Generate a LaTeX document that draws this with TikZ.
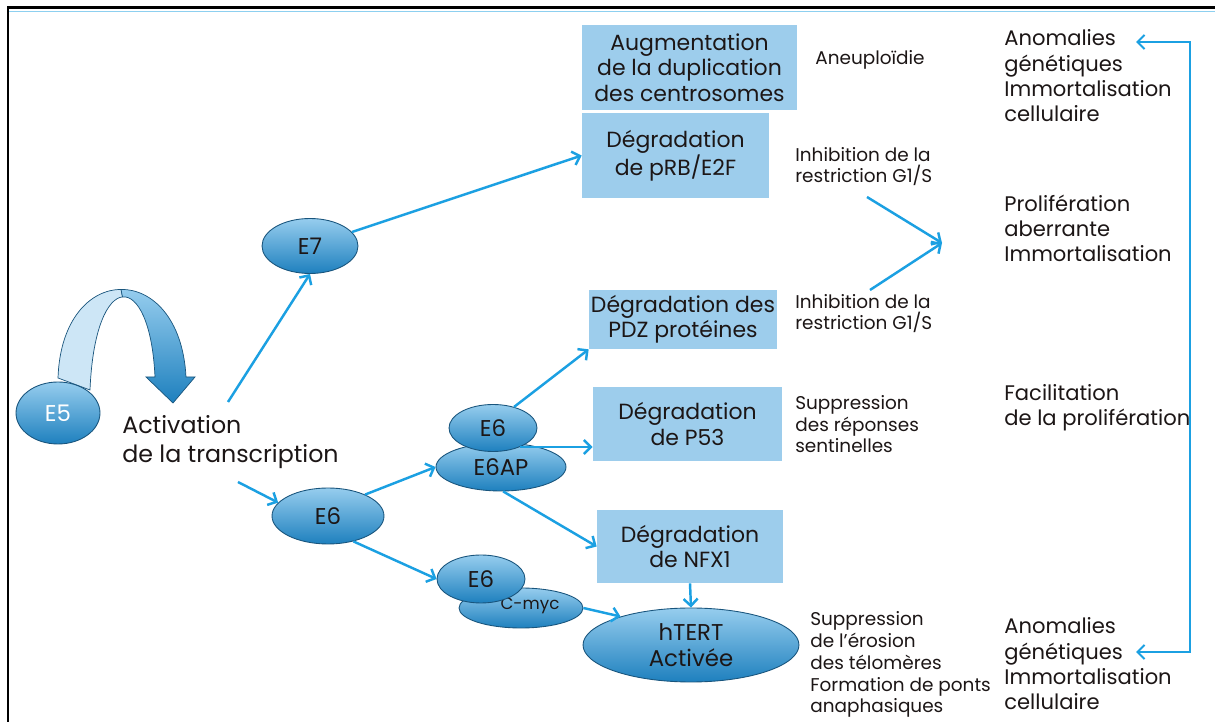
\documentclass[tikz,border=0pt]{standalone}
\usepackage{fontspec}
\setmainfont{Poppins}
\usetikzlibrary{shapes.geometric,arrows.meta}
\definecolor{boxblue}{RGB}{157,205,236}
\definecolor{arrblue}{RGB}{27,160,226}
\definecolor{elltop}{RGB}{150,205,238}
\definecolor{ellbot}{RGB}{30,128,190}
\definecolor{ellline}{RGB}{25,85,125}
\definecolor{txt}{RGB}{28,22,22}
\definecolor{ribbonlight}{RGB}{205,230,246}
\begin{document}
\begin{tikzpicture}[x=0.02cm,y=-0.02cm,
  box/.style={fill=boxblue, inner sep=0pt, align=center, text=txt, font=\fontsize{12.5}{14.5}\selectfont},
  ell/.style={ellipse, draw=ellline, line width=0.5pt, top color=elltop, bottom color=ellbot, inner sep=0pt, text=txt, font=\fontsize{13}{15}\selectfont},
  arr/.style={draw=arrblue, line width=1.4pt, -{Straight Barb[length=4pt,width=8pt]}},
  big/.style={anchor=base west, inner sep=0pt, align=left, text=txt, font=\fontsize{12}{14.5}\selectfont},
  small/.style={anchor=base west, inner sep=0pt, align=left, text=txt, font=\fontsize{10.5}{12.5}\selectfont},
]
\useasboundingbox (0,0) rectangle (1215,722);
\fill[white] (0,0) rectangle (1215,722);
% frame
\draw[arrblue!50, line width=1pt] (9,11.5) -- (1215,11.5);
\draw[black, line width=1.7pt] (8,722) -- (8,8) -- (1215,8);

% ribbon arrow
\filldraw[fill=ribbonlight, draw=ellline, line width=0.4pt] (58,378) .. controls (60,319) and (90.5,289.5) .. (121,289.4) -- (122.5,296.9) .. controls (107.5,298.5) and (92.5,329) .. (90,390) -- cycle;
\shadedraw[top color=elltop, bottom color=ellbot, draw=ellline, line width=0.4pt] (121,289.4) .. controls (152,289) and (183,318.5) .. (186,377) -- (195,377) -- (173,403) -- (146,377) -- (155,377) .. controls (152.5,322.5) and (137.5,295.25) .. (122.5,296.9) -- cycle;

% boxes
\node[box, minimum width=4.3cm, minimum height=1.7cm] (boxA) at (689.5,67.5) {Augmentation\\de la duplication\\des centrosomes};
\node[box, minimum width=3.74cm, minimum height=1.7cm] (boxB) at (675.5,155.5) {Dégradation\\de pRB/E2F};
\node[box, minimum width=3.76cm, minimum height=1.18cm] (boxC) at (683,319.5) {Dégradation des\\PDZ protéines};
\node[box, minimum width=3.78cm, minimum height=1.48cm] (boxD) at (687.5,424) {Dégradation\\de P53};
\node[box, minimum width=3.72cm, minimum height=1.46cm] (boxE) at (690,546.5) {Dégradation\\de NFX1};

% ellipses
\node[ell, minimum width=1.68cm, minimum height=1.24cm, text=white] (E5) at (58,413) {E5};
\node[ell, minimum width=1.92cm, minimum height=1.1cm] (E7) at (310,246) {E7};
\node[ell, minimum width=2.24cm, minimum height=1.12cm] (E6m) at (328,516) {E6};
\node[ell, minimum width=2.6cm, minimum height=0.96cm] (E6AP) at (501,467) {E6AP};
\node[ell, minimum width=1.76cm, minimum height=0.94cm] (E6u) at (493,428) {E6};
\node[ell, minimum width=2.48cm, minimum height=0.8cm,
  label={[font=\fontsize{9.5}{11}\selectfont, text=txt, xshift=0.18cm, yshift=0.05cm]center:C-myc}] (Cmyc) at (521,608) {};
\node[ell, minimum width=1.76cm, minimum height=0.96cm] (E6l) at (481,579) {E6};
\node[ell, minimum width=4.32cm, minimum height=1.48cm, align=center] (hTERT) at (691,645) {hTERT\\Activée};

% texts (base = baseline of last line)
\node[big, font=\fontsize{13.5}{17}\selectfont] (act) at (122,463) {Activation\\de la transcription};
\node[small] (aneu) at (815,65) {Aneuploïdie};
\node[small] (inh1) at (795,183) {Inhibition de la\\restriction G1/S};
\node[small] (inh2) at (795,330) {Inhibition de la\\restriction G1/S};
\node[small] (supp1) at (795,453) {Suppression\\des réponses\\sentinelles};
\node[small] (supp2) at (810,713) {Suppression\\de l’érosion\\des télomères\\Formation de ponts\\anaphasiques};
\node[big] (anom1) at (1004,122) {Anomalies\\génétiques\\Immortalisation\\cellulaire};
\node[big] (prol) at (1004,262) {Prolifération\\aberrante\\Immortalisation};
\node[big] (fac) at (1004,426) {Facilitation\\de la prolifération};
\node[big] (anom2) at (1004,710) {Anomalies\\génétiques\\Immortalisation\\cellulaire};

% arrows
\coordinate (a1) at (228,402);
\coordinate (a2) at (238,482);
\draw[arr] (a1) -- (E7.south);
\draw[arr] (E7) -- (boxB.west);
\draw[arr] (a2) -- (E6m.165);
\draw[arr] (E6m.30) -- (E6AP.west);
\draw[arr] (E6u.45) -- (boxC.south west);
\draw[arr] (E6u.-35) -- (E6u.-35 -| boxD.west);
\draw[arr] (E6AP.-85) -- (boxE.west);
\draw[arr] (E6m.-45) -- (E6l.west);
\draw[arr] (Cmyc.east) -- (hTERT.158);
\draw[arr] (boxE.south) -- (hTERT.north);

\coordinate (c1) at (867,197);
\coordinate (c2) at (870,290);
\coordinate (c3) at (942,243);
\draw[arr] (c1) -- (c3);
\draw[arr] (c2) -- (c3);

\coordinate (b1) at (1136,42);
\coordinate (b2) at (1136,652);
\draw[arr, line width=1.2pt, {Straight Barb[length=4pt,width=8pt]}-{Straight Barb[length=4pt,width=8pt]}] (b1) -- (1190,42) -- (1190,652) -- (b2);
\end{tikzpicture}
\end{document}
